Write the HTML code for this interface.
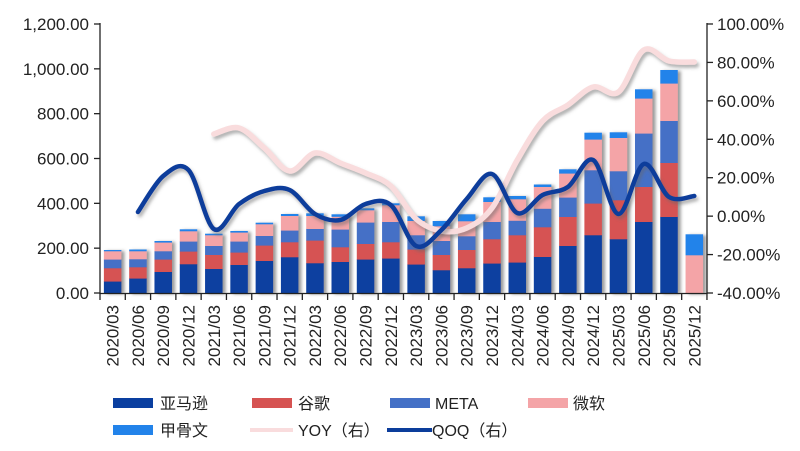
<!DOCTYPE html>
<html>
<head>
<meta charset="utf-8">
<style>
  html,body{margin:0;padding:0;background:#fff;}
  svg{display:block;}
  text{font-family:"Liberation Sans","Noto Sans CJK SC",sans-serif;fill:#222;}
</style>
</head>
<body>
<svg id="c" width="800" height="451" viewBox="0 0 800 451" xmlns="http://www.w3.org/2000/svg">
  <defs>
    <filter id="bs" x="-30%" y="-10%" width="180%" height="130%">
      <feDropShadow dx="3" dy="1" stdDeviation="1.7" flood-color="#555" flood-opacity="0.6"/>
    </filter>
    <filter id="ls" x="-10%" y="-30%" width="120%" height="160%">
      <feDropShadow dx="2" dy="3" stdDeviation="1.5" flood-color="#666" flood-opacity="0.5"/>
    </filter>
  </defs>
  <g id="bars"></g>
  <path id="yoy" d="" fill="none" stroke="#f9dcdd" stroke-width="5.5" stroke-linecap="round" stroke-linejoin="round" filter="url(#ls)"/>
  <path id="qoq" d="" fill="none" stroke="#0c3d9b" stroke-width="4.5" stroke-linecap="round" stroke-linejoin="round" filter="url(#ls)"/>

  <!-- axes -->
  <g stroke="#222" stroke-width="1.3" fill="none">
    <line x1="100" y1="23" x2="100" y2="294"/>
    <line x1="707" y1="23" x2="707" y2="294"/>
    <line x1="99.5" y1="293.5" x2="707.5" y2="293.5"/>
  </g>
  <g id="ticks" stroke="#222" stroke-width="1.3"></g>

  <!-- left labels -->
  <g font-size="17" text-anchor="end">
    <text x="89" y="299">0.00</text>
    <text x="89" y="254.2">200.00</text>
    <text x="89" y="209.3">400.00</text>
    <text x="89" y="164.5">600.00</text>
    <text x="89" y="119.7">800.00</text>
    <text x="89" y="74.8">1,000.00</text>
    <text x="89" y="30">1,200.00</text>
  </g>
  <!-- right labels -->
  <g font-size="17" text-anchor="start">
    <text x="717" y="299">-40.00%</text>
    <text x="717" y="260.6">-20.00%</text>
    <text x="717" y="222.1">0.00%</text>
    <text x="717" y="183.7">20.00%</text>
    <text x="717" y="145.3">40.00%</text>
    <text x="717" y="106.9">60.00%</text>
    <text x="717" y="68.4">80.00%</text>
    <text x="717" y="30">100.00%</text>
  </g>
  <!-- x labels -->
  <g font-size="17" text-anchor="end">
    <text transform="translate(118.6,305) rotate(-90)">2020/03</text>
    <text transform="translate(143.9,305) rotate(-90)">2020/06</text>
    <text transform="translate(169.2,305) rotate(-90)">2020/09</text>
    <text transform="translate(194.5,305) rotate(-90)">2020/12</text>
    <text transform="translate(219.8,305) rotate(-90)">2021/03</text>
    <text transform="translate(245.1,305) rotate(-90)">2021/06</text>
    <text transform="translate(270.4,305) rotate(-90)">2021/09</text>
    <text transform="translate(295.6,305) rotate(-90)">2021/12</text>
    <text transform="translate(320.9,305) rotate(-90)">2022/03</text>
    <text transform="translate(346.2,305) rotate(-90)">2022/06</text>
    <text transform="translate(371.5,305) rotate(-90)">2022/09</text>
    <text transform="translate(396.8,305) rotate(-90)">2022/12</text>
    <text transform="translate(422.1,305) rotate(-90)">2023/03</text>
    <text transform="translate(447.4,305) rotate(-90)">2023/06</text>
    <text transform="translate(472.7,305) rotate(-90)">2023/09</text>
    <text transform="translate(498,305) rotate(-90)">2023/12</text>
    <text transform="translate(523.3,305) rotate(-90)">2024/03</text>
    <text transform="translate(548.6,305) rotate(-90)">2024/06</text>
    <text transform="translate(573.9,305) rotate(-90)">2024/09</text>
    <text transform="translate(599.2,305) rotate(-90)">2024/12</text>
    <text transform="translate(624.5,305) rotate(-90)">2025/03</text>
    <text transform="translate(649.8,305) rotate(-90)">2025/06</text>
    <text transform="translate(675.1,305) rotate(-90)">2025/09</text>
    <text transform="translate(700.4,305) rotate(-90)">2025/12</text>
  </g>

  <!-- legend -->
  <g font-size="16">
    <rect x="113" y="398" width="40" height="10" fill="#0a3fa0"/>
    <text x="160" y="409">亚马逊</text>
    <rect x="252" y="398" width="40" height="10" fill="#d65352"/>
    <text x="298" y="409">谷歌</text>
    <rect x="390" y="398" width="40" height="10" fill="#4470c6"/>
    <text x="435" y="409">META</text>
    <rect x="528" y="398" width="40" height="10" fill="#f4a4a7"/>
    <text x="573" y="409">微软</text>

    <rect x="113" y="425" width="40" height="10" fill="#2283ea"/>
    <text x="160" y="436">甲骨文</text>
    <line x1="250" y1="430" x2="293" y2="430" stroke="#f9dcdd" stroke-width="4"/>
    <text x="298" y="436">YOY（右）</text>
    <line x1="387" y1="430" x2="432" y2="430" stroke="#0c3d9b" stroke-width="4"/>
    <text x="432" y="436">QOQ（右）</text>
  </g>
</svg>
<script>
(function(){
  var NS="http://www.w3.org/2000/svg";
  function cx(i){return 100+25.29*(i+0.5);}
  var base=293;
  var cols=["#0a3fa0","#d65352","#4470c6","#f4a4a7","#2283ea"];
  var B=[
   [281.3,268,259.3,251,250],
   [278.3,267,259,251,249.5],
   [271.7,259.3,251,242.3,241],
   [264,251.3,241.3,231,229.3],
   [268.7,254.7,245.7,235,233.7],
   [264.7,252.3,241.3,232.3,231],
   [260.7,245.3,235.7,224,222.7],
   [257,242,230.3,215.7,214],
   [263,240.3,228.7,215.7,213.3],
   [261.7,247,229.3,216.5,214.3],
   [259.3,243.7,222.3,210,208.3],
   [258.3,242,221.7,205,203.3],
   [264.3,249.3,235,220.7,216.3],
   [270,254.7,240.7,226,221],
   [268,249.7,236,221,214.3],
   [263.3,239,221.7,201.7,197.3],
   [262.3,235,220.5,199,196],
   [256.7,227,208.5,186.7,184.5],
   [245.7,216.7,197.3,173.3,169.3],
   [235,203.3,170,139.3,132.7],
   [239,200,171,137.7,132.3],
   [221.7,186.7,133.3,98.3,89.3],
   [216.7,162.7,120.7,83.3,70],
   [293,293,293,255,234.3]
  ];
  var g=document.getElementById("bars");
  var w=17.5;
  for(var i=0;i<B.length;i++){
    var grp=document.createElementNS(NS,"g");
    grp.setAttribute("filter","url(#bs)");
    var prev=base;
    for(var k=0;k<5;k++){
      var top=B[i][k];
      var h=prev-top;
      if(h>0.05){
        var r=document.createElementNS(NS,"rect");
        r.setAttribute("x",(cx(i)-w/2).toFixed(2));
        r.setAttribute("y",top.toFixed(2));
        r.setAttribute("width",w);
        r.setAttribute("height",(h+(k>0?0.3:0)).toFixed(2));
        r.setAttribute("fill",cols[k]);
        grp.appendChild(r);
      }
      prev=top;
    }
    g.appendChild(grp);
  }
  var t=document.getElementById("ticks");
  function ln(x1,y1,x2,y2){var l=document.createElementNS(NS,"line");l.setAttribute("x1",x1);l.setAttribute("y1",y1);l.setAttribute("x2",x2);l.setAttribute("y2",y2);t.appendChild(l);}
  for(var k=0;k<=24;k++){var x=100+25.29*k;ln(x,293.5,x,300);}
  for(var k=0;k<=6;k++){var y=293-k*44.833;ln(94,y,100,y);}
  for(var k=0;k<=7;k++){var y=293-k*38.43;ln(707,y,713,y);}
  function smooth(pts){
    var d="M"+pts[0][0].toFixed(2)+","+pts[0][1].toFixed(2);
    for(var i=0;i<pts.length-1;i++){
      var p0=pts[i-1]||pts[i],p1=pts[i],p2=pts[i+1],p3=pts[i+2]||pts[i+1];
      var c1x=p1[0]+(p2[0]-p0[0])/6,c1y=p1[1]+(p2[1]-p0[1])/6;
      var c2x=p2[0]-(p3[0]-p1[0])/6,c2y=p2[1]-(p3[1]-p1[1])/6;
      d+=" C"+c1x.toFixed(2)+","+c1y.toFixed(2)+" "+c2x.toFixed(2)+","+c2y.toFixed(2)+" "+p2[0].toFixed(2)+","+p2[1].toFixed(2);
    }
    return d;
  }
  var Q={1:212,2:176,3:170,4:229,5:204,6:191,7:190,8:214,9:220,10:204,11:205,12:246,13:230,14:199,15:174,16:213,17:195,18:187,19:160,20:214,21:164,22:197,23:196};
  var Y={4:134,5:128,6:148,7:171,8:153,9:163,10:173,11:186,12:219,13:231,14:228,15:208,16:160,17:121,18:105,19:87,20:92,21:50,22:61,23:62};
  function pts(o){var a=[];for(var k in o){a.push([cx(+k),o[k]]);}a.sort(function(a,b){return a[0]-b[0];});return a;}
  document.getElementById("qoq").setAttribute("d",smooth(pts(Q)));
  document.getElementById("yoy").setAttribute("d",smooth(pts(Y)));
})();
</script>
</body>
</html>
